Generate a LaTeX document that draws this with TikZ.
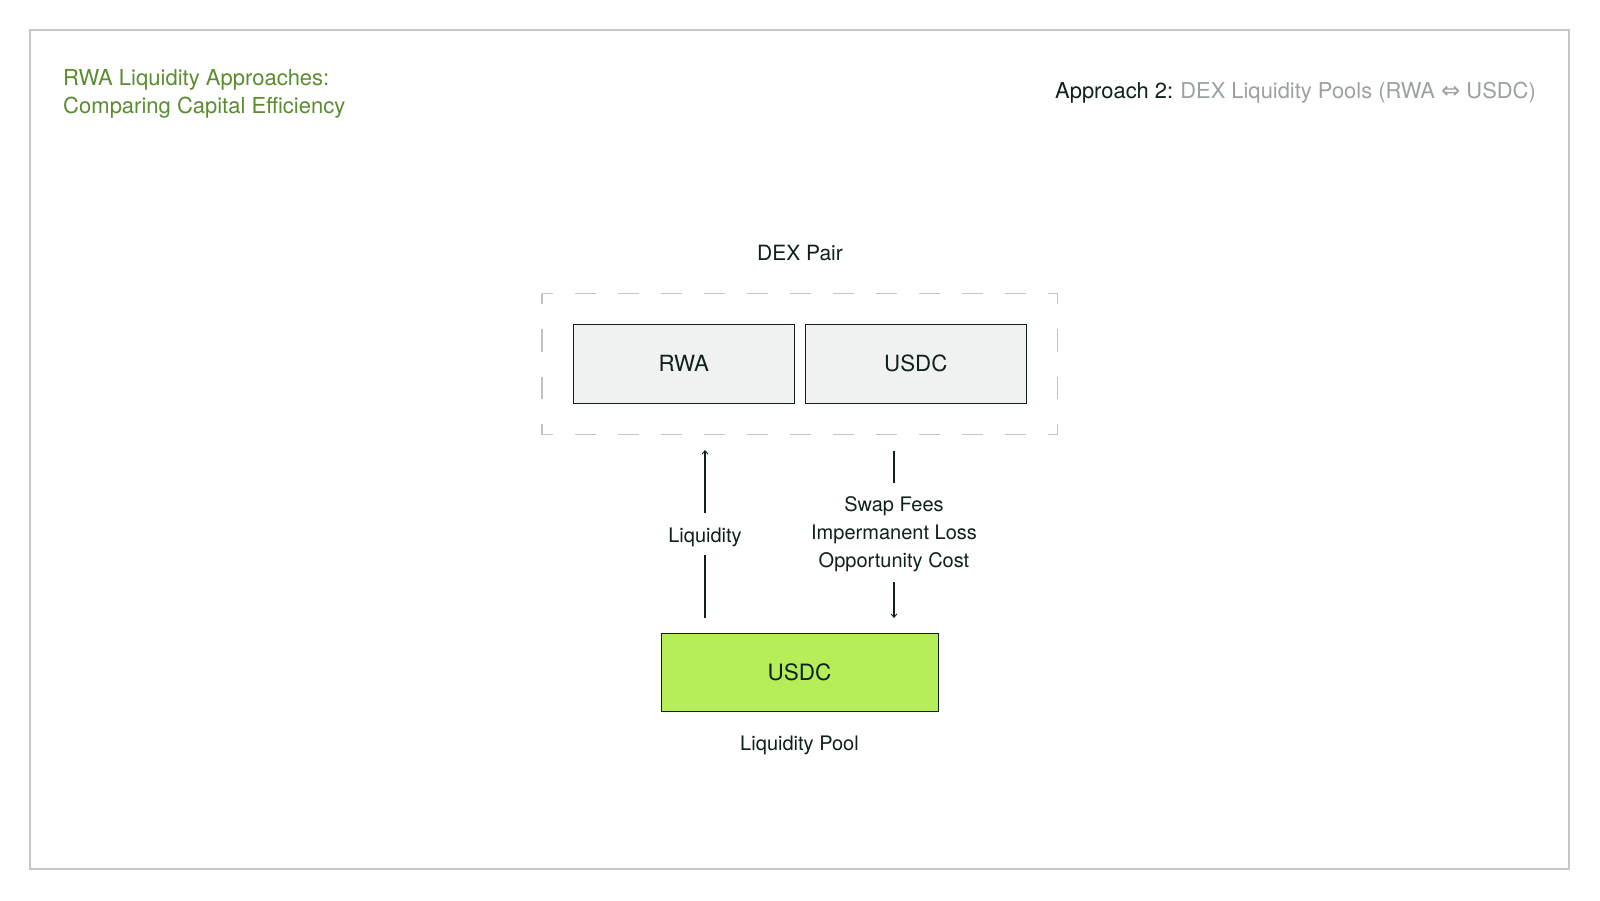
\documentclass[tikz,border=0pt]{standalone}
\usepackage{fontspec}
\setmainfont{TeX Gyre Heros}
\newfontfamily\symfont{DejaVu Sans}
\usetikzlibrary{arrows.meta}
\definecolor{framegray}{HTML}{C6C8C7}
\definecolor{dashgray}{HTML}{C2C4C3}
\definecolor{titlegreen}{HTML}{5B8D2F}
\definecolor{softgray}{HTML}{9AA29F}
\definecolor{ink}{HTML}{10201B}
\definecolor{cellfill}{HTML}{F0F2F1}
\definecolor{poolfill}{HTML}{B6EE59}
\tikzset{
  txt/.style={text=ink, inner sep=0pt},
  cell/.style={draw=ink, line width=1pt, fill=cellfill, minimum width=221pt, minimum height=79pt, inner sep=0pt, text=ink, font=\fontsize{22.3}{26}\selectfont},
  pool/.style={cell, fill=poolfill, minimum width=277pt, minimum height=78pt, font=\fontsize{22.5}{26}\selectfont},
  flow/.style={draw=ink, line width=1.1pt},
  tipped/.style={flow, -{Straight Barb[length=3.5pt, width=6pt, line width=0.9pt]}},
  lbl/.style={txt, font=\fontsize{20}{28}\selectfont, align=center},
  grouph/.style={dashgray, line width=1.1pt, dash pattern=on 21pt off 22pt, dash phase=10.5pt},
  groupv/.style={dashgray, line width=1.1pt, dash pattern=on 22.5pt off 25pt, dash phase=12pt},
}
\begin{document}
\begin{tikzpicture}[x=1pt, y=-1pt]
\useasboundingbox (0,0) rectangle (1600,900);
% outer frame
\draw[framegray, line width=1.2pt] (30,30) rectangle (1569,869);
% headings
\node[anchor=base west, inner sep=0pt, text=titlegreen, font=\fontsize{22}{28}\selectfont] (title1) at (63,85) {RWA Liquidity Approaches:};
\node[anchor=base west, inner sep=0pt, text=titlegreen, font=\fontsize{22}{28}\selectfont] (title2) at (63,113) {Comparing Capital Efficiency};
\node[anchor=base east, inner sep=0pt, font=\fontsize{21.9}{28}\selectfont] (approach) at (1536,98)
  {\textcolor{ink}{Approach 2:}\hspace{-1pt} \textcolor{softgray}{DEX Liquidity Pools (RWA {\symfont\fontsize{23}{24}\selectfont ⇔} USDC)}};
% DEX pair group: dashed frame drawn side by side so every corner gets a dash
\node[txt, font=\fontsize{21}{24}\selectfont] (dexlabel) at (800,253) {DEX Pair};
\coordinate (gnw) at (542,293.5);
\coordinate (gne) at (1057.5,293.5);
\coordinate (gsw) at (542,434.5);
\coordinate (gse) at (1057.5,434.5);
\draw[grouph] (gnw) -- (gne);
\draw[grouph] (gsw) -- (gse);
\draw[groupv] (gnw) -- (gsw);
\draw[groupv] (gne) -- (gse);
\node[cell] (rwa) at (683.8,363.8) {RWA};
\node[cell] (usdc) at (915.8,363.8) {USDC};
% liquidity pool
\node[pool] (pool) at (799.5,672.5) {USDC};
\node[lbl, anchor=base] (poollabel) at (799.5,750) {Liquidity Pool};
% flows between pool and pair
\coordinate (liqlow) at (705,618);
\coordinate (liqgapb) at (705,555);
\coordinate (liqgapt) at (705,513);
\coordinate (liqtop) at (705,450);
\node[lbl] (liqlabel) at (705,537) {Liquidity};
\draw[flow] (liqlow) -- (liqgapb);
\draw[tipped] (liqgapt) -- (liqtop);
\coordinate (costtop) at (894,451);
\coordinate (costgapt) at (894,483);
\coordinate (costgapb) at (894,582);
\coordinate (costlow) at (894,618);
\node[lbl] (costlabel) at (894,534) {Swap Fees\\Impermanent Loss\\Opportunity Cost};
\draw[flow] (costtop) -- (costgapt);
\draw[tipped] (costgapb) -- (costlow);
\end{tikzpicture}
\end{document}
